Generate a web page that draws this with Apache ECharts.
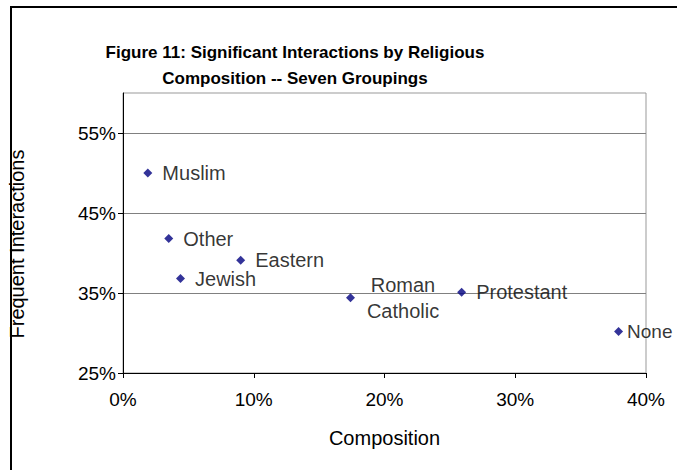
<!DOCTYPE html>
<html>
<head>
<meta charset="utf-8">
<script src="https://cdn.jsdelivr.net/npm/echarts@6/dist/echarts.min.js"></script>
<style>html,body{margin:0;padding:0;background:#fff;}#c{width:677px;height:470px;}</style>
</head>
<body>
<div id="c"></div>
<script>
var groups = ['Muslim', 'Other', 'Eastern', 'Jewish', 'Roman\nCatholic', 'Protestant', 'None'];
var composition = [1.9, 3.5, 9.0, 4.4, 17.4, 25.9, 37.9];
var frequent = [50.0, 41.8, 39.1, 36.8, 34.4, 35.1, 30.2];
var xTicks = [0, 10, 20, 30, 40];
var yTicks = [25, 35, 45, 55];

var FONT = '"Liberation Sans", Arial, sans-serif';
var chart = echarts.init(document.getElementById('c'), null, {renderer: 'svg'});

var points = groups.map(function (g, i) {
  var d = {name: g, value: [composition[i], frequent[i]]};
  if (g.indexOf('\n') >= 0) {
    d.label = {align: 'center', offset: [38, 0]};
  }
  if (g === 'None') {
    d.label = {distance: 4, fontSize: 19};
  }
  return d;
});

chart.setOption({
  animation: false,
  backgroundColor: '#fff',
  title: {
    text: 'Figure 11: Significant Interactions by Religious\nComposition -- Seven Groupings',
    left: 290,
    top: 34,
    textAlign: 'center',
    textStyle: {fontFamily: FONT, fontWeight: 'bold', fontSize: 17, lineHeight: 26, color: '#000'}
  },
  graphic: [
    {type: 'rect', shape: {x: 11, y: 7, width: 720, height: 520}, style: {fill: 'none', stroke: '#000', lineWidth: 2}, silent: true},
    {type: 'text', x: 17, y: 244, rotation: Math.PI / 2,
     style: {text: 'Frequent Interactions', fontFamily: FONT, fontSize: 20, fill: '#000', textAlign: 'center', textVerticalAlign: 'middle'}}
  ],
  grid: {left: 123, right: 31, top: 93, bottom: 97, show: true, borderColor: '#999', borderWidth: 1, backgroundColor: '#fff'},
  xAxis: {
    type: 'value', min: xTicks[0], max: xTicks[xTicks.length - 1], interval: 10,
    name: 'Composition', nameLocation: 'middle', nameGap: 55,
    nameTextStyle: {fontFamily: FONT, fontSize: 20, color: '#000'},
    axisLine: {show: true, lineStyle: {color: '#000', width: 1}},
    axisTick: {show: true, length: 5, lineStyle: {color: '#000'}},
    axisLabel: {formatter: '{value}%', fontFamily: FONT, fontSize: 19, color: '#000', margin: 17},
    splitLine: {show: false}
  },
  yAxis: {
    type: 'value', min: yTicks[0], max: 60, interval: 10,
    axisLine: {show: true, lineStyle: {color: '#000', width: 1}},
    axisTick: {show: true, length: 5, customValues: yTicks, lineStyle: {color: '#000'}},
    axisLabel: {
      customValues: yTicks,
      formatter: function (v) { return yTicks.indexOf(v) >= 0 ? v + '%' : ''; },
      fontFamily: FONT, fontSize: 19, color: '#000', margin: 7
    },
    splitLine: {show: true, lineStyle: {color: '#808080', width: 1}}
  },
  series: [{
    type: 'scatter',
    symbol: 'diamond',
    symbolSize: 9,
    itemStyle: {color: '#000080'},
    label: {
      show: true, position: 'right', distance: 10,
      formatter: '{b}', fontFamily: FONT, fontSize: 20, color: '#000', lineHeight: 26
    },
    data: points
  }]
});
</script>
</body>
</html>
